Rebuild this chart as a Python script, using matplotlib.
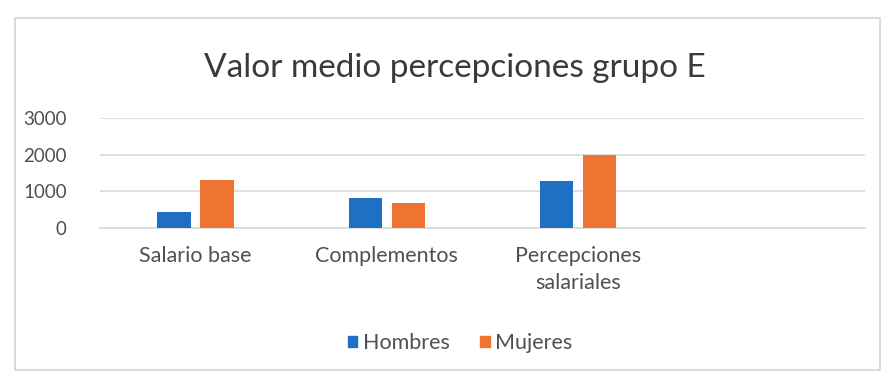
import numpy as np
import matplotlib.pyplot as plt
from matplotlib.patches import Rectangle, Patch

plt.rcParams['font.family'] = ['Lato', 'DejaVu Sans']

categorias = ['Salario base', 'Complementos', 'Percepciones\nsalariales', '']
hombres = [430, 820, 1270, 0]
mujeres = [1300, 680, 1980, 0]
yticks = [0, 1000, 2000, 3000]

azul = '#1F6FC5'
naranja = '#EE7531'
gris_texto = '#505050'
gris_linea = '#D9D9D9'

fig = plt.figure(figsize=(8.88, 3.79), dpi=100)
ax = fig.add_axes([100 / 888, 1 - 228 / 379, 765 / 888, 110 / 379])

x = np.arange(len(categorias))
ancho = 0.175
sep = 0.05
ax.bar(x[:3] - (ancho + sep) / 2, hombres[:3], ancho, color=azul, zorder=3)
ax.bar(x[:3] + (ancho + sep) / 2, mujeres[:3], ancho, color=naranja, zorder=3)

ax.set_xlim(-0.5, len(categorias) - 0.5)
ax.set_ylim(0, 3000)
ax.set_yticks(yticks)
ax.set_yticklabels([str(v) for v in yticks])
ax.set_xticks(x)
ax.set_xticklabels(categorias, linespacing=1.45)

ax.grid(axis='y', color=gris_linea, linewidth=1.2, zorder=0)
for lado in ['top', 'right', 'left']:
    ax.spines[lado].set_visible(False)
ax.spines['bottom'].set_color(gris_linea)
ax.spines['bottom'].set_linewidth(1.2)
ax.tick_params(axis='both', length=0, labelcolor=gris_texto)
ax.tick_params(axis='y', pad=24, labelsize=13.5)
ax.tick_params(axis='x', pad=13, labelsize=15.5)

fig.text(455 / 888, 1 - 68 / 379, 'Valor medio percepciones grupo E',
         ha='center', va='center', fontsize=24, color='#3A3A3A')

handles = [Patch(color=azul, label='Hombres'), Patch(color=naranja, label='Mujeres')]
fig.legend(handles=handles, loc='center', bbox_to_anchor=(460 / 888, 1 - 343 / 379),
           ncol=2, frameon=False, fontsize=15.5, labelcolor=gris_texto,
           handlelength=0.45, handleheight=0.45, handletextpad=0.25, columnspacing=1.4)

# marco exterior del gráfico
fig.patches.append(Rectangle((15 / 888, 1 - 370 / 379), 865 / 888, 352 / 379,
                             transform=fig.transFigure, fill=False,
                             edgecolor='#D4D4D4', linewidth=1.2))

fig.savefig('out.png', dpi=100, facecolor='white')
